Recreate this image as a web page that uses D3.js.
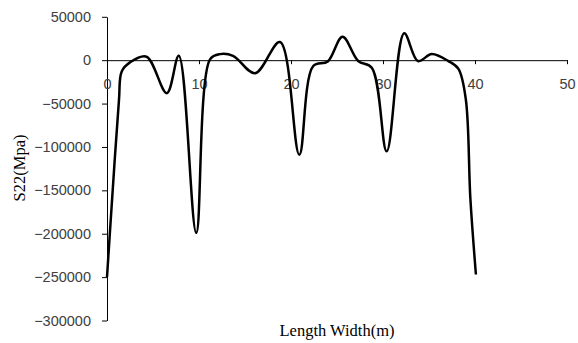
<!DOCTYPE html>
<html>
<head>
<meta charset="utf-8">
<script src="https://cdn.jsdelivr.net/npm/d3@7"></script>
<style>
  html, body { margin: 0; padding: 0; background: #fff; }
  svg { display: block; }
  .tick text { font-family: "Liberation Sans", Arial, sans-serif; font-size: 14.5px; fill: #404040; }
  .axis-title { font-family: "Liberation Serif", "Times New Roman", serif; font-size: 16.5px; fill: #000; }
</style>
</head>
<body>
<script>
// S22 stress along the length
const lengthM = [0, 0.55, 1.3, 1.6, 2.5, 4.3, 6.5, 7.8, 9.7, 11.2, 12.3, 13.7, 16.1, 18.8, 20.9, 22.4, 24.0, 25.6, 27.3, 28.8, 30.4, 32.3, 33.8, 35.3, 37.1, 38.2, 39.0, 39.5, 40.1];
const s22 = [-250000, -161000, -46000, -13000, -2500, 4000, -38000, 5000, -199000, 1000, 7000, 5000, -15000, 21000, -109000, -7000, -1500, 27000, -1000, -9000, -105000, 31000, -1000, 7000, -1000, -10000, -45000, -160000, -247000];

const xTicks = [0, 10, 20, 30, 40, 50];
const yTicks = [50000, 0, -50000, -100000, -150000, -200000, -250000, -300000];

const W = 578, H = 343;

const svg = d3.select('body').append('svg')
  .attr('width', W)
  .attr('height', H);

const x = d3.scaleLinear().domain([0, 50]).range([107, 567]);
const y = d3.scaleLinear().domain([-300000, 50000]).range([320.5, 16.8]);

// y axis
svg.append('g')
  .attr('transform', `translate(${x(0)},0)`)
  .call(d3.axisLeft(y).tickValues(yTicks).tickSize(5).tickSizeOuter(0).tickPadding(11).tickFormat(d3.format('d')))
  .call(g => g.select('.domain').attr('stroke', '#000'))
  .call(g => g.selectAll('.tick line').attr('stroke', '#000'));

// x axis through zero
svg.append('g')
  .attr('transform', `translate(0,${y(0)})`)
  .call(d3.axisBottom(x).tickValues(xTicks).tickSize(4).tickSizeOuter(0).tickPadding(15))
  .call(g => g.select('.domain').attr('stroke', '#000'))
  .call(g => g.selectAll('.tick line').attr('stroke', '#000'));

// line
const line = d3.line()
  .x((d, i) => x(lengthM[i]))
  .y(d => y(d))
  .curve(d3.curveCatmullRom.alpha(0.5));

svg.append('path')
  .datum(s22)
  .attr('fill', 'none')
  .attr('stroke', '#000')
  .attr('stroke-width', 2.5)
  .attr('stroke-linejoin', 'round')
  .attr('d', line);

// axis titles
svg.append('text')
  .attr('class', 'axis-title')
  .attr('text-anchor', 'middle')
  .attr('x', 337)
  .attr('y', 336)
  .text('Length Width(m)');

svg.append('text')
  .attr('class', 'axis-title')
  .attr('text-anchor', 'middle')
  .attr('transform', 'translate(25,168) rotate(-90)')
  .text('S22(Mpa)');
</script>
</body>
</html>
